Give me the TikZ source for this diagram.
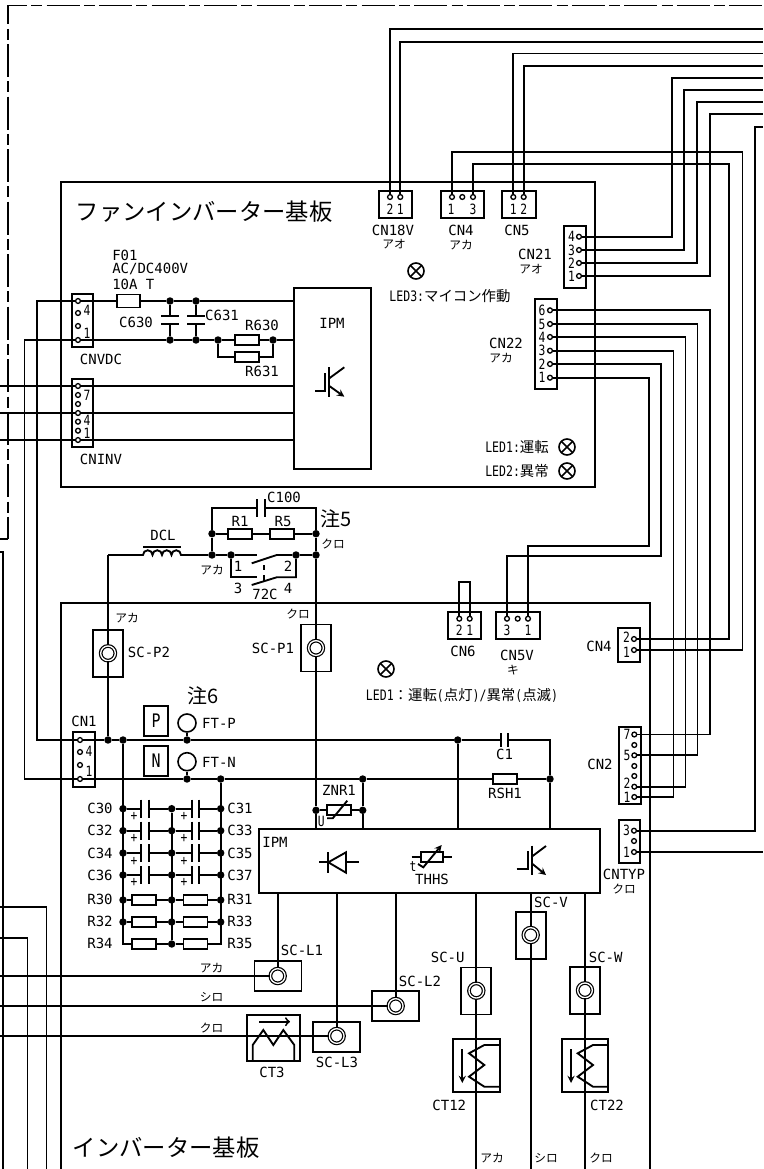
\documentclass[tikz,border=0pt]{standalone}
\usepackage{fontspec}
\setmainfont{DejaVu Sans Mono}
\newfontfamily\jpf{Noto Sans CJK JP}
\newfontfamily\narf[FakeStretch=0.8]{DejaVu Sans Mono}
\begin{document}
\begin{tikzpicture}[x=.75pt,y=-.75pt]
\tikzstyle{wire}=[line width=1.4pt]
\tikzstyle{box}=[rectangle,draw=black,line width=1.4pt,inner sep=0pt,outer sep=0pt]
\tikzstyle{pinc}=[circle,draw=black,fill=white,line width=1pt,inner sep=0pt,minimum size=3.6pt]
\tikzstyle{jdot}=[circle,fill=black,inner sep=0pt,minimum size=5.6pt]
\tikzstyle{res}=[box,fill=white,minimum width=18pt,minimum height=7.5pt]
\tikzstyle{scv}=[box,minimum width=22.5pt,minimum height=35.25pt]
\tikzstyle{sch}=[box,minimum width=35.25pt,minimum height=22.5pt]
\tikzstyle{term}=[circle,draw=black,double,double distance=1pt,line width=.9pt,fill=white,inner sep=0pt,minimum size=11pt]
\tikzstyle{led}=[circle,draw=black,line width=1.2pt,inner sep=0pt,minimum size=12pt,path picture={\draw[line width=1.2pt] (path picture bounding box.north west) -- (path picture bounding box.south east) (path picture bounding box.north east) -- (path picture bounding box.south west);}]
\tikzstyle{lbl}=[inner sep=0pt,font=\fontsize{10.5}{12}\selectfont]
\tikzstyle{num}=[inner sep=0pt,font=\narf\fontsize{10.6}{12}\selectfont]
\tikzstyle{tag}=[inner sep=0pt,font=\jpf\fontsize{8.8}{10}\selectfont]
\tikzstyle{jpl}=[inner sep=0pt,font=\jpf\fontsize{10.8}{12}\selectfont]
\tikzstyle{title}=[inner sep=0pt,font=\jpf\fontsize{17.5}{20}\selectfont]
\tikzstyle{note}=[inner sep=0pt,font=\jpf\fontsize{15}{18}\selectfont]

\useasboundingbox (0,0) rectangle (763,1169);
\clip (0,0) rectangle (763,1169);

%free ends at the edges
\coordinate (rt_a) at (763,29);
\coordinate (rt_b) at (763,42);
\coordinate (rt_c) at (763,53.5);
\coordinate (rt_d) at (763,66);
\coordinate (rt_e) at (763,78);
\coordinate (rt_f) at (763,90);
\coordinate (rt_g) at (763,102);
\coordinate (rt_h) at (763,114);
\coordinate (rt_i) at (763,127);
\coordinate (rt_j) at (763,852);
\coordinate (lf_a) at (0,386);
\coordinate (lf_b) at (0,413);
\coordinate (lf_c) at (0,440);
\coordinate (lf_d) at (0,976);
\coordinate (lf_e) at (0,1006);
\coordinate (lf_f) at (0,1036);
\coordinate (bt_u) at (476.3,1169);
\coordinate (bt_v) at (530.7,1169);
\coordinate (bt_w) at (585,1169);

%outer dashed frame and loose wires
\draw[line width=1.4pt,dash pattern=on 24.75pt off 3.2pt on 8.25pt off 3.2pt,dash phase=10.5pt] (8,5.5) -- (763,5.5);
\draw[line width=1.4pt,dash pattern=on 24.75pt off 3.2pt on 8.25pt off 3.2pt,dash phase=10.5pt] (8,5.5) -- (8,539);
\draw[wire] (8,539) -- (0,539);
\draw[wire] (0,552) -- (3,552) -- (3,1169);
\draw[wire] (0,907) -- (46.5,907) -- (46.5,1169);
\draw[wire] (0,938) -- (27.5,938) -- (27.5,1169);

%fan inverter board
\node [box,minimum width=400.5pt,minimum height=228.75pt](fan) at (328,334.5) {};
\node [title](fan_t) at (204,212) {ファンインバーター基板};
\node [box,minimum width=57.75pt,minimum height=135.75pt](ipm_f) at (332.5,378.5) {};
\node [lbl](ipm_ft) at (332,323) {IPM};
\draw[wire] (315,390.7) -- (325,390.7) -- (325,373.3);
\draw[wire] (329.3,367.3) -- (329.3,396.7);
\draw[wire] (329.3,378.3) -- (344.3,367.3);
\draw[wire,->,>=stealth] (329.3,386) -- (344.3,396.7);

%fan board connectors
\node [box,minimum width=15.75pt,minimum height=39.75pt](cnvdc) at (82.5,320.5) {};
\node [pinc](cnvdc_4) at (78,301) {};
\node [pinc](cnvdc_3) at (78,313) {};
\node [pinc](cnvdc_2) at (78,326) {};
\node [pinc](cnvdc_1) at (78,340) {};
\node [num](cnvdc_n4) at (87,310) {4};
\node [num](cnvdc_n1) at (87,333) {1};
\node [lbl](cnvdc_t) at (101,359) {CNVDC};
\node [box,minimum width=15.75pt,minimum height=51pt](cninv) at (82.5,413) {};
\node [pinc](cninv_7) at (78,386) {};
\node [pinc](cninv_6) at (78,395) {};
\node [pinc](cninv_5) at (78,404) {};
\node [pinc](cninv_4) at (78,413) {};
\node [pinc](cninv_3) at (78,421.7) {};
\node [pinc](cninv_2) at (78,430.7) {};
\node [pinc](cninv_1) at (78,440) {};
\node [num](cninv_n7) at (87,395) {7};
\node [num](cninv_n4) at (87,420) {4};
\node [num](cninv_n1) at (87,433) {1};
\node [lbl](cninv_t) at (101,459) {CNINV};
\node [box,minimum width=24.75pt,minimum height=20.25pt](cn18v) at (395.5,204.5) {};
\node [pinc](cn18v_2) at (390,197) {};
\node [pinc](cn18v_1) at (400.3,197) {};
\node [num](cn18v_n2) at (390,209) {2};
\node [num](cn18v_n1) at (400.3,209) {1};
\node [lbl](cn18v_t) at (393,230) {CN18V};
\node [tag](cn18v_c) at (394,244) {アオ};
\node [box,minimum width=32.25pt,minimum height=20.25pt](cn4f) at (462.5,204.5) {};
\node [pinc](cn4f_1) at (452,197) {};
\node [pinc](cn4f_2) at (462.3,197) {};
\node [pinc](cn4f_3) at (473,197) {};
\node [num](cn4f_n1) at (451,209) {1};
\node [num](cn4f_n3) at (473,209) {3};
\node [lbl](cn4f_t) at (461,230) {CN4};
\node [tag](cn4f_c) at (461,245) {アカ};
\node [box,minimum width=25.5pt,minimum height=20.25pt](cn5) at (519,204.5) {};
\node [pinc](cn5_1) at (513.3,197) {};
\node [pinc](cn5_2) at (523.7,197) {};
\node [num](cn5_n1) at (513.3,209) {1};
\node [num](cn5_n2) at (523.7,209) {2};
\node [lbl](cn5_t) at (517,230) {CN5};
\node [box,minimum width=16.5pt,minimum height=46.5pt](cn21) at (575,257) {};
\node [pinc](cn21_4) at (579,236.7) {};
\node [pinc](cn21_3) at (579,250) {};
\node [pinc](cn21_2) at (579,263) {};
\node [pinc](cn21_1) at (579,276) {};
\node [num](cn21_n4) at (571.5,236.7) {4};
\node [num](cn21_n3) at (571.5,250) {3};
\node [num](cn21_n2) at (571.5,263) {2};
\node [num](cn21_n1) at (571.5,276) {1};
\node [lbl](cn21_t) at (535,254) {CN21};
\node [tag](cn21_c) at (531,269) {アオ};
\node [box,minimum width=16.5pt,minimum height=67.5pt](cn22) at (546,344) {};
\node [pinc](cn22_6) at (550,310.3) {};
\node [pinc](cn22_5) at (550,324) {};
\node [pinc](cn22_4) at (550,337) {};
\node [pinc](cn22_3) at (550,350.7) {};
\node [pinc](cn22_2) at (550,364) {};
\node [pinc](cn22_1) at (550,377.7) {};
\node [num](cn22_n6) at (542,310.3) {6};
\node [num](cn22_n5) at (542,324) {5};
\node [num](cn22_n4) at (542,337) {4};
\node [num](cn22_n3) at (542,350.7) {3};
\node [num](cn22_n2) at (542,364) {2};
\node [num](cn22_n1) at (542,377.7) {1};
\node [lbl](cn22_t) at (506,343) {CN22};
\node [tag](cn22_c) at (501,358) {アカ};

%fan board leds
\node [led](led3) at (416,271) {};
\node [jpl](led3_t) at (450,296) {{\narf LED3:}マイコン作動};
\node [jpl](led1_t) at (517,447) {{\narf LED1:}運転};
\node [led](led1) at (567,447) {};
\node [jpl](led2_t) at (517,471) {{\narf LED2:}異常};
\node [led](led2) at (567,471) {};

%fan board power part
\node [res,minimum width=17.25pt,minimum height=9.75pt](f01) at (128.5,301) {};
\node [lbl,anchor=west](f01_a) at (112,255) {F01};
\node [lbl,anchor=west](f01_b) at (112,269) {AC/DC400V};
\node [lbl,anchor=west](f01_c) at (112,284) {10A T};
\node [jdot](j_f1) at (170,301) {};
\node [jdot](j_f2) at (196,301) {};
\node [jdot](j_f3) at (170,340) {};
\node [jdot](j_f4) at (196,340) {};
\node [jdot](j_f5) at (218,340) {};
\node [jdot](j_f6) at (273,340) {};
\node [lbl](c630_t) at (136,322) {C630};
\node [lbl](c631_t) at (222,315) {C631};
\node [res](r630) at (247,340) {};
\node [res](r631) at (247,357) {};
\node [lbl](r630_t) at (262,325) {R630};
\node [lbl](r631_t) at (262,371) {R631};
\draw[wire] (cnvdc_4) -- (f01.west);
\draw[wire] (f01.east) -- (j_f1);
\draw[wire] (j_f1) -- (j_f2);
\draw[wire] (j_f2) -- (ipm_f.west |- j_f2);
\draw[wire] (cnvdc_1) -- (j_f3);
\draw[wire] (j_f3) -- (j_f4);
\draw[wire] (j_f4) -- (j_f5);
\draw[wire] (j_f5) -- (r630.west);
\draw[wire] (r630.east) -- (j_f6);
\draw[wire] (j_f6) -- (ipm_f.west |- j_f6);
\draw[wire] (j_f5) |- (r631.west);
\draw[wire] (r631.east) -| (j_f6);
\draw[wire] (j_f1) -- (170,316) (161,316) -- (179,316) (161,324) -- (179,324) (170,324) -- (j_f3);
\draw[wire] (j_f2) -- (196,316) (187,316) -- (205,316) (187,324) -- (205,324) (196,324) -- (j_f4);
\draw[wire] (lf_a) -- (cninv_7);
\draw[wire] (cninv_7) -- (ipm_f.west |- cninv_7);
\draw[wire] (lf_b) -- (cninv_4);
\draw[wire] (cninv_4) -- (ipm_f.west |- cninv_4);
\draw[wire] (lf_c) -- (cninv_1);
\draw[wire] (cninv_1) -- (ipm_f.west |- cninv_1);

%wires to the top right
\draw[wire] (cn18v_2) |- (rt_a);
\draw[wire] (cn18v_1) |- (rt_b);
\draw[wire] (cn5_1) |- (rt_c);
\draw[wire] (cn5_2) |- (rt_d);
\draw[wire] (cn21_4) -| (672,78) -- (rt_e);
\draw[wire] (cn21_3) -| (684,90) -- (rt_f);
\draw[wire] (cn21_2) -| (697,102) -- (rt_g);
\draw[wire] (cn21_1) -| (710,114) -- (rt_h);

%inverter board
\draw[wire] (61,1169) -- (61,603) -- (650,603) -- (650,1169);
\node [title](inv_t) at (166,1148) {インバーター基板};
\node [box,minimum width=255.75pt,minimum height=47.75pt](ipm_i) at (429.5,860.85) {};
\node [lbl](ipm_it) at (275,842) {IPM};

%inverter board connectors
\node [box,minimum width=24.75pt,minimum height=20.25pt](cn6) at (464.5,625.5) {};
\node [pinc](cn6_2) at (459.3,618.7) {};
\node [pinc](cn6_1) at (469.7,618.7) {};
\node [num](cn6_n2) at (459.3,630) {2};
\node [num](cn6_n1) at (469.7,630) {1};
\node [lbl](cn6_t) at (463,651) {CN6};
\node [box,minimum width=33pt,minimum height=20.25pt](cn5v) at (518,625.5) {};
\node [pinc](cn5v_3) at (507,618.7) {};
\node [pinc](cn5v_2) at (517.7,618.7) {};
\node [pinc](cn5v_1) at (528,618.7) {};
\node [num](cn5v_n3) at (507,630) {3};
\node [num](cn5v_n1) at (528,630) {1};
\node [lbl](cn5v_t) at (517,655) {CN5V};
\node [tag](cn5v_c) at (513,670) {キ};
\node [box,minimum width=16.5pt,minimum height=25.5pt](cn4i) at (629,645) {};
\node [pinc](cn4i_2) at (634,639) {};
\node [pinc](cn4i_1) at (634,650) {};
\node [num](cn4i_n2) at (626.5,637) {2};
\node [num](cn4i_n1) at (626.5,652) {1};
\node [lbl](cn4i_t) at (599,646) {CN4};
\node [box,minimum width=16.5pt,minimum height=57.75pt](cn2) at (630,765.5) {};
\node [pinc](cn2_7) at (634.3,734.5) {};
\node [pinc](cn2_6) at (634.3,745) {};
\node [pinc](cn2_5) at (634.3,755.3) {};
\node [pinc](cn2_4) at (634.3,766) {};
\node [pinc](cn2_3) at (634.3,776) {};
\node [pinc](cn2_2) at (634.3,786.7) {};
\node [pinc](cn2_1) at (634.3,797) {};
\node [num](cn2_n7) at (627,734.5) {7};
\node [num](cn2_n5) at (627,755) {5};
\node [num](cn2_n2) at (627,783) {2};
\node [num](cn2_n1) at (627,797) {1};
\node [lbl](cn2_t) at (600,764) {CN2};
\node [box,minimum width=15.75pt,minimum height=32.25pt](cntyp) at (629.5,841.5) {};
\node [pinc](cntyp_3) at (634,830.7) {};
\node [pinc](cntyp_2) at (634,841) {};
\node [pinc](cntyp_1) at (634,852) {};
\node [num](cntyp_n3) at (626.5,830) {3};
\node [num](cntyp_n1) at (626.5,852) {1};
\node [lbl](cntyp_t) at (624,874) {CNTYP};
\node [tag](cntyp_c) at (624,889) {クロ};
\node [box,minimum width=16.5pt,minimum height=41.25pt](cn1) at (84,759.5) {};
\node [pinc](cn1_4) at (80,740) {};
\node [pinc](cn1_3) at (80,752) {};
\node [pinc](cn1_2) at (80,765) {};
\node [pinc](cn1_1) at (80,779) {};
\node [num](cn1_n4) at (89,751) {4};
\node [num](cn1_n1) at (89,771) {1};
\node [lbl](cn1_t) at (84,721) {CN1};

%wires between the boards
\draw[wire] (cnvdc_4) -- (36.7,301) -- (36.7,740) -- (cn1_4);
\draw[wire] (cnvdc_1) -- (24.5,340) -- (24.5,779) -- (cn1_1);
\draw[wire] (cn4f_1) |- (742.5,152) |- (cn4i_1);
\draw[wire] (cn4f_3) |- (729,164) |- (cn4i_2);
\draw[wire] (cn22_6) -| (710,734.5) -- (cn2_7);
\draw[wire] (cn22_5) -| (697.5,755.3) -- (cn2_5);
\draw[wire] (cn22_4) -| (685.5,786.7) -- (cn2_2);
\draw[wire] (cn22_3) -| (673.5,797) -- (cn2_1);
\draw[wire] (cn22_2) -| (661.3,556) -| (cn5v_3);
\draw[wire] (cn22_1) -| (649,545.7) -| (cn5v_1);
\draw[wire] (rt_i) -- (755,127) |- (cntyp_3);
\draw[wire] (cntyp_1) -- (rt_j);
\draw[wire] (cn6_2) -- (459.3,582) -- (469.7,582) -- (cn6_1);

\node [led](led1_i) at (386,669) {};
\node [jpl](led1_it) at (462,695) {{\narf LED1}：運転{\narf (}点灯{\narf )/}異常{\narf (}点滅{\narf )}};

%reactor and contactor
\node [jdot](j_a) at (212,533.7) {};
\node [jdot](j_b) at (212,555) {};
\node [jdot](j_c) at (231,555) {};
\node [jdot](j_d) at (296,555) {};
\node [jdot](j_e) at (316,555) {};
\node [jdot](j_g) at (316,533.7) {};
\node [res](r1) at (240,533.7) {};
\node [res](r5) at (282,533.7) {};
\node [lbl](r1_t) at (240,521) {R1};
\node [lbl](r5_t) at (283,521) {R5};
\node [lbl](c100_t) at (284,497) {C100};
\node [note](note5) at (336,519) {注5};
\node [tag](j_e_c) at (333,544) {クロ};
\node [tag](j_b_c) at (212,570) {アカ};
\node [lbl](dcl_t) at (163,535) {DCL};
\node [lbl](sw_1) at (238,566) {1};
\node [lbl](sw_2) at (288,566) {2};
\node [lbl](sw_3) at (238,588) {3};
\node [lbl](sw_4) at (288,588) {4};
\node [lbl](sw_t) at (265,594.5) {72C};
\draw[wire] (j_a) -- (r1.west);
\draw[wire] (r1.east) -- (r5.west);
\draw[wire] (r5.east) -- (j_g);
\draw[wire] (j_a) -- (j_b);
\draw[wire] (j_a) -- (212,508) -- (256.7,508) (256.7,499.3) -- (256.7,516.7) (265,499.3) -- (265,516.7) (265,508) -- (316,508) -- (j_g);
\draw[wire] (j_g) -- (j_e);
\draw[wire] (143,546.7) -- (181,546.7);
\draw[wire] (108,555) -- (143,555) arc[start angle=180,end angle=360,radius=4.75] arc[start angle=180,end angle=360,radius=4.75] arc[start angle=180,end angle=360,radius=4.75] arc[start angle=180,end angle=360,radius=4.75] -- (j_b);
\draw[wire] (j_b) -- (j_c);
\draw[wire] (j_c) -- (256.7,555);
\draw[wire] (251.7,563.3) -- (276.7,555) -- (j_d);
\draw[wire] (j_d) -- (j_e);
\draw[wire] (j_c) -- (231,577.3) -- (256.7,577.3);
\draw[wire] (251.7,585) -- (276.7,577.3) -- (296,577.3) -- (j_d);
\draw[wire] (264,565) -- (264,570) (264,575) -- (264,582);

%terminals on the main bus
\node [scv](sc_p2) at (108,653.3) {};
\node [term](sc_p2_t) at (108,653.3) {};
\node [lbl](sc_p2_l) at (149,652) {SC-P2};
\node [tag](sc_p2_c) at (127,618) {アカ};
\node [scv](sc_p1) at (316,648) {};
\node [term](sc_p1_t) at (316,648) {};
\node [lbl](sc_p1_l) at (273,648) {SC-P1};
\node [tag](sc_p1_c) at (298,614) {クロ};
\node [note](note6) at (203,696) {注6};
\node [box,minimum width=18pt,minimum height=22.5pt](p_box) at (156,721) {};
\node [lbl,font=\narf\fontsize{14}{16}\selectfont](p_t) at (156,721) {P};
\node [box,minimum width=18pt,minimum height=22.5pt](n_box) at (156,760.7) {};
\node [lbl,font=\narf\fontsize{14}{16}\selectfont](n_t) at (156,760.7) {N};
\node [circle,draw=black,line width=1.2pt,inner sep=0pt,minimum size=13.5pt](ft_p) at (187,723) {};
\node [circle,draw=black,line width=1.2pt,inner sep=0pt,minimum size=13.5pt](ft_n) at (187,761.7) {};
\node [lbl](ft_p_t) at (219,723) {FT-P};
\node [lbl](ft_n_t) at (219,762) {FT-N};

%main bus
\node [jdot](j_p1) at (108,740) {};
\node [jdot](j_p2) at (123,740) {};
\node [jdot](j_p3) at (187,740) {};
\node [jdot](j_p4) at (457.7,740) {};
\node [jdot](j_n1) at (187,779) {};
\node [jdot](j_n2) at (220.7,779) {};
\node [jdot](j_n3) at (362.7,779) {};
\node [jdot](j_n4) at (550,779) {};
\node [res](rsh1) at (505,779) {};
\node [lbl](rsh1_t) at (505,793) {RSH1};
\node [lbl](c1_t) at (504.6,754) {C1};
\draw[wire] (108,555) -- (sc_p2_t);
\draw[wire] (sc_p2_t) -- (j_p1);
\draw[wire] (j_e) -- (sc_p1_t);
\draw[wire] (ft_p) -- (j_p3);
\draw[wire] (ft_n) -- (j_n1);
\draw[wire] (cn1_4) -- (j_p1);
\draw[wire] (j_p1) -- (j_p2);
\draw[wire] (j_p2) -- (j_p3);
\draw[wire] (j_p3) -- (j_p4);
\draw[wire] (j_p4) -- (500.7,740) (500.7,733) -- (500.7,747) (508.3,733) -- (508.3,747) (508.3,740) -- (550,740) -- (j_n4);
\draw[wire] (cn1_1) -- (j_n1);
\draw[wire] (j_n1) -- (j_n2);
\draw[wire] (j_n2) -- (j_n3);
\draw[wire] (j_n3) -- (rsh1.west);
\draw[wire] (rsh1.east) -- (j_n4);
\draw[wire] (j_p4) -- (j_p4 |- ipm_i.north);
\draw[wire] (j_n4) -- (j_n4 |- ipm_i.north);

%varistor
\node [jdot](j_z1) at (316,810.3) {};
\node [jdot](j_z2) at (362.7,810.3) {};
\node [res](znr1) at (339.3,810.3) {};
\node [lbl](znr1_t) at (339,790) {ZNR1};
\node [num](u_t) at (321.3,821) {U};
\draw[wire] (sc_p1_t) -- (j_z1);
\draw[wire] (j_z1) -- (j_z1 |- ipm_i.north);
\draw[wire] (j_z1) -- (znr1.west);
\draw[wire] (znr1.east) -- (j_z2);
\draw[wire] (j_n3) -- (j_z2);
\draw[wire] (j_z2) -- (j_z2 |- ipm_i.north);
\draw[wire] (327,818.3) -- (332.7,818.3) -- (347.3,800.7);

%smoothing capacitors
\node [jdot](c30_a) at (123,808.7) {};
\node [jdot](c30_b) at (171.7,808.7) {};
\node [jdot](c30_c) at (220.7,808.7) {};
\node [jdot](c32_a) at (123,830.7) {};
\node [jdot](c32_b) at (171.7,830.7) {};
\node [jdot](c32_c) at (220.7,830.7) {};
\node [jdot](c34_a) at (123,853) {};
\node [jdot](c34_b) at (171.7,853) {};
\node [jdot](c34_c) at (220.7,853) {};
\node [jdot](c36_a) at (123,875) {};
\node [jdot](c36_b) at (171.7,875) {};
\node [jdot](c36_c) at (220.7,875) {};
\draw[wire] (c30_a) -- (141,808.7) (141,799.7) -- (141,817.7) (149,799.7) -- (149,817.7) (149,808.7) -- (c30_b);
\draw[wire] (c30_b) -- (191.7,808.7) (191.7,799.7) -- (191.7,817.7) (199.3,799.7) -- (199.3,817.7) (199.3,808.7) -- (c30_c);
\draw[wire] (c32_a) -- (141,830.7) (141,821.7) -- (141,839.7) (149,821.7) -- (149,839.7) (149,830.7) -- (c32_b);
\draw[wire] (c32_b) -- (191.7,830.7) (191.7,821.7) -- (191.7,839.7) (199.3,821.7) -- (199.3,839.7) (199.3,830.7) -- (c32_c);
\draw[wire] (c34_a) -- (141,853) (141,844) -- (141,862) (149,844) -- (149,862) (149,853) -- (c34_b);
\draw[wire] (c34_b) -- (191.7,853) (191.7,844) -- (191.7,862) (199.3,844) -- (199.3,862) (199.3,853) -- (c34_c);
\draw[wire] (c36_a) -- (141,875) (141,866) -- (141,884) (149,866) -- (149,884) (149,875) -- (c36_b);
\draw[wire] (c36_b) -- (191.7,875) (191.7,866) -- (191.7,884) (199.3,866) -- (199.3,884) (199.3,875) -- (c36_c);
\node [lbl](c30_t) at (100,808) {C30};
\node [lbl](c31_t) at (240,808) {C31};
\node [lbl](c32_t) at (100,830.5) {C32};
\node [lbl](c33_t) at (240,830.5) {C33};
\node [lbl](c34_t) at (100,853) {C34};
\node [lbl](c35_t) at (240,853) {C35};
\node [lbl](c36_t) at (100,875) {C36};
\node [lbl](c37_t) at (240,875) {C37};
\node [num](c30_p) at (134,816) {+};
\node [num](c31_p) at (184,816) {+};
\node [num](c32_p) at (134,838.5) {+};
\node [num](c33_p) at (184,838.5) {+};
\node [num](c34_p) at (134,861) {+};
\node [num](c35_p) at (184,861) {+};
\node [num](c36_p) at (134,882.5) {+};
\node [num](c37_p) at (184,882.5) {+};

%balancing resistors
\node [jdot](r30_a) at (123,900) {};
\node [jdot](r30_b) at (171.7,900) {};
\node [jdot](r30_c) at (220.7,900) {};
\node [jdot](r32_a) at (123,922) {};
\node [jdot](r32_b) at (171.7,922) {};
\node [jdot](r32_c) at (220.7,922) {};
\node [jdot](r34_b) at (171.7,944) {};
\node [res](r30) at (144.3,900) {};
\node [res](r31) at (195.5,900) {};
\node [res](r32) at (144.3,922) {};
\node [res](r33) at (195.5,922) {};
\node [res](r34) at (144.3,944) {};
\node [res](r35) at (195.5,944) {};
\draw[wire] (r30_a) -- (r30.west) (r30.east) -- (r30_b) -- (r31.west) (r31.east) -- (r30_c);
\draw[wire] (r32_a) -- (r32.west) (r32.east) -- (r32_b) -- (r33.west) (r33.east) -- (r32_c);
\draw[wire] (j_p2) -- (123,944) -- (r34.west);
\draw[wire] (r34.east) -- (r34_b);
\draw[wire] (r34_b) -- (r35.west);
\draw[wire] (r35.east) -- (220.7,944) -- (j_n2);
\draw[wire] (c30_b) -- (r34_b);
\node [lbl](r30_t) at (100,899) {R30};
\node [lbl](r31_t) at (240,899) {R31};
\node [lbl](r32_t) at (100,921) {R32};
\node [lbl](r33_t) at (240,921) {R33};
\node [lbl](r34_t) at (100,943.5) {R34};
\node [lbl](r35_t) at (240,943.5) {R35};

%symbols inside the module
\draw[wire] (319,862.3) -- (358.7,862.3);
\draw[wire] (328.3,852) -- (328.3,873);
\draw[wire,fill=white] (328.3,862.3) -- (346,852.3) -- (346,872.7) -- cycle;
\node [res,minimum width=17pt,minimum height=7pt](thhs) at (432,857) {};
\draw[wire] (411.7,857) -- (thhs.west);
\draw[wire] (thhs.east) -- (451.7,857);
\draw[wire,->,>=stealth] (418,864) -- (423.3,867.3) -- (441.7,845);
\node [num](thhs_n) at (413,867) {t};
\node [lbl](thhs_t) at (432,879.3) {THHS};
\draw[wire] (516.7,869.3) -- (527.7,869.3) -- (527.7,850.7);
\draw[wire] (531.7,845.7) -- (531.7,875);
\draw[wire] (531.7,856.7) -- (546,846);
\draw[wire,->,>=stealth] (531.7,863.3) -- (546,875);

%output terminals
\node [sch](sc_l1) at (278,976) {};
\node [term](sc_l1_t) at (277.7,976) {};
\node [lbl](sc_l1_l) at (302,950) {SC-L1};
\node [tag](sc_l1_c) at (211.7,968) {アカ};
\node [sch](sc_l2) at (395.5,1006) {};
\node [term](sc_l2_t) at (395.7,1006) {};
\node [lbl](sc_l2_l) at (420,981) {SC-L2};
\node [tag](sc_l2_c) at (211.7,997) {シロ};
\node [sch](sc_l3) at (336.5,1036.7) {};
\node [term](sc_l3_t) at (336.7,1036) {};
\node [lbl](sc_l3_l) at (337,1062) {SC-L3};
\node [tag](sc_l3_c) at (211.7,1028) {クロ};
\node [scv](sc_u) at (476.3,991) {};
\node [term](sc_u_t) at (476.3,990.7) {};
\node [lbl](sc_u_l) at (447.7,957) {SC-U};
\node [scv](sc_v) at (530.7,935.5) {};
\node [term](sc_v_t) at (530.7,935) {};
\node [lbl](sc_v_l) at (551,902) {SC-V};
\node [scv](sc_w) at (585,990.7) {};
\node [term](sc_w_t) at (585,990.3) {};
\node [lbl](sc_w_l) at (605.7,957) {SC-W};
\draw[wire] (sc_l1_t) -- (ipm_i.south -| sc_l1_t);
\draw[wire] (sc_l2_t) -- (ipm_i.south -| sc_l2_t);
\draw[wire] (sc_l3_t) -- (ipm_i.south -| sc_l3_t);
\draw[wire] (sc_u_t) -- (ipm_i.south -| sc_u_t);
\draw[wire] (sc_v_t) -- (ipm_i.south -| sc_v_t);
\draw[wire] (sc_w_t) -- (ipm_i.south -| sc_w_t);
\draw[wire] (sc_u_t) -- (bt_u);
\draw[wire] (sc_v_t) -- (bt_v);
\draw[wire] (sc_w_t) -- (bt_w);
\draw[wire] (lf_d) -- (sc_l1_t);
\draw[wire] (lf_e) -- (sc_l2_t);
\draw[wire] (lf_f) -- (sc_l3_t);
\node [tag](bt_u_c) at (492,1158) {アカ};
\node [tag](bt_v_c) at (546,1158) {シロ};
\node [tag](bt_w_c) at (601,1158) {クロ};

%current sensors
\node [box,minimum width=39.5pt,minimum height=34.5pt](ct3) at (273.7,1037.7) {};
\draw[wire,->] (259.3,1021.7) -- (290,1021.7);
\draw[wire] (252.7,1060) -- (252.7,1045) -- (263.3,1030) -- (273.3,1045) -- (283.3,1030) -- (294.3,1045) -- (294.3,1060);
\node [lbl](ct3_t) at (272,1072.5) {CT3};
\node [box,minimum width=34.8pt,minimum height=40pt](ct12) at (476.5,1065.7) {};
\draw[wire,->,>=stealth] (462.3,1049.3) -- (462.3,1083);
\draw[wire] (499.7,1045) -- (484.3,1045) -- (469,1053.3) -- (484.3,1065) -- (469,1076.7) -- (484.3,1086.7) -- (499.7,1086.7);
\node [lbl](ct12_t) at (449.3,1105) {CT12};
\node [box,minimum width=34.8pt,minimum height=40pt](ct22) at (585.2,1065.7) {};
\draw[wire,->,>=stealth] (571,1049.3) -- (571,1083);
\draw[wire] (608.4,1045) -- (593,1045) -- (577.7,1053.3) -- (593,1065) -- (577.7,1076.7) -- (593,1086.7) -- (608.4,1086.7);
\node [lbl](ct22_t) at (607,1105) {CT22};
\end{tikzpicture}
\end{document}
